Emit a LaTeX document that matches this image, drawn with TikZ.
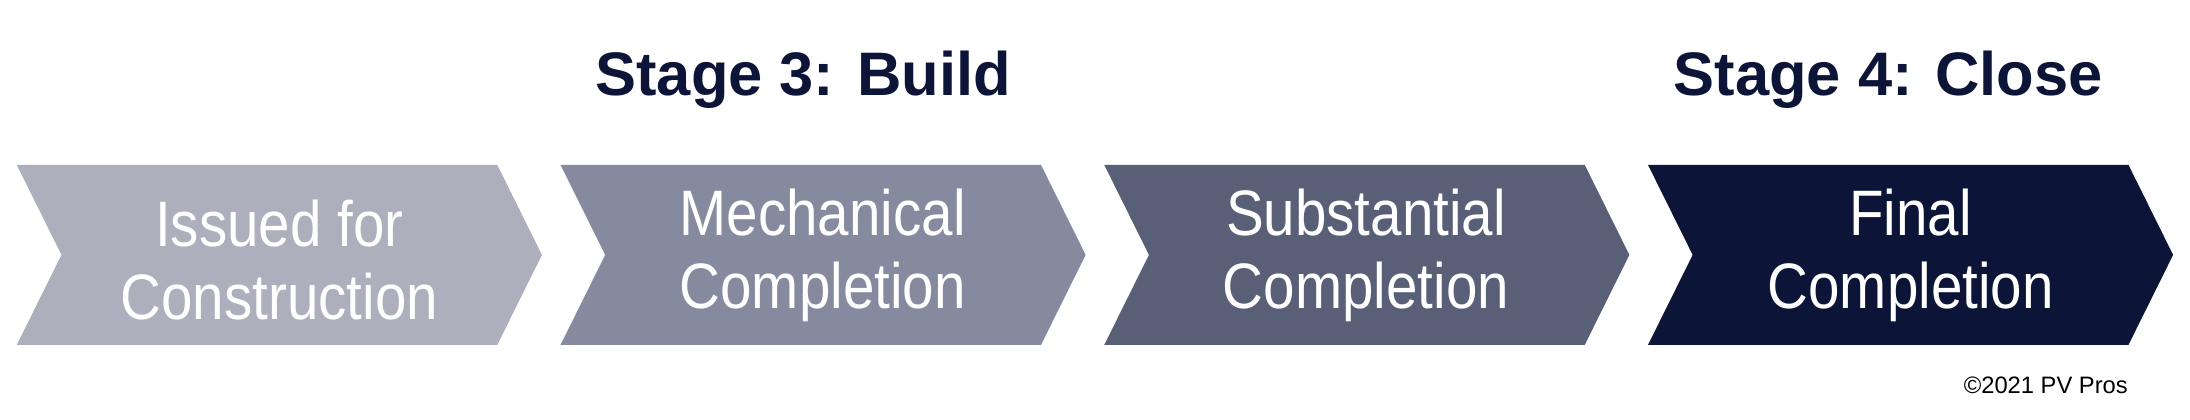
\documentclass[tikz,border=0pt]{standalone}
\usepackage{fontspec}
\setmainfont{Liberation Sans}
\definecolor{cA}{HTML}{ADAFBD}
\definecolor{cB}{HTML}{858A9E}
\definecolor{cC}{HTML}{5A5F78}
\definecolor{cD}{HTML}{0C1537}
\begin{document}
\begin{tikzpicture}[x=1pt,y=-1pt,
  lbl/.style={text=white,font=\fontsize{46}{52}\selectfont,align=center,xscale=0.88},
  ttl/.style={text=cD,font=\bfseries\fontsize{44}{50}\selectfont}]
\useasboundingbox (0,0) rectangle (1568,300.7);
\foreach \i/\c in {0/cA,1/cB,2/cC,3/cD}{
  \fill[\c] ({12+389.3*\i},118) -- ({356+389.3*\i},118) -- ({388+389.3*\i},182.5) -- ({356+389.3*\i},247) -- ({12+389.3*\i},247) -- ({44+389.3*\i},182.5) -- cycle;
}
\node[lbl] (a) at (200,186) {Issued for\\Construction};
\node[lbl] (b) at (589,183) {Mechanical\\Completion};
\node[lbl] (c) at (978,183) {Substantial\\Completion};
\node[lbl] (d) at (1368,183) {Final\\Completion};
\node[ttl] (s3) at (575,57) {Stage 3: Build};
\node[ttl] (s4) at (1352,57) {Stage 4: Close};
\node[font=\fontsize{17}{20}\selectfont,anchor=east] (cp) at (1527,276) {©2021 PV Pros};
\end{tikzpicture}
\end{document}
